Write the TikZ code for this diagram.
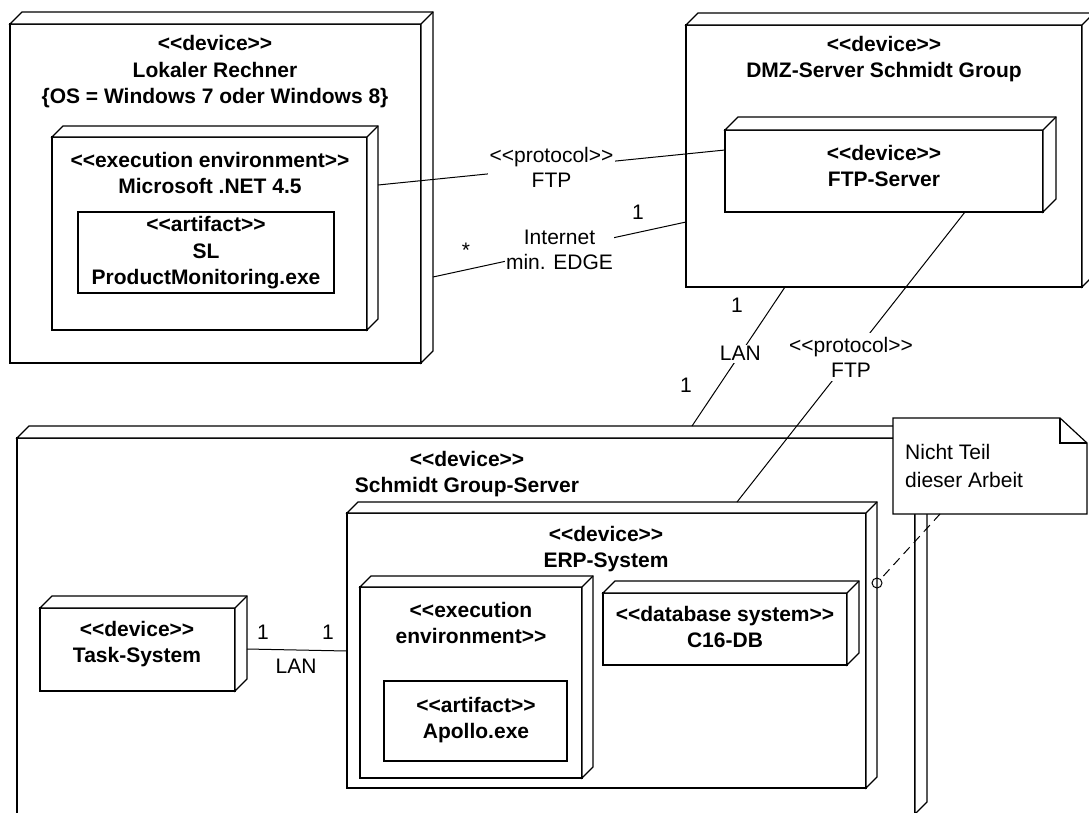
\documentclass[tikz,border=0pt]{standalone}
\usepackage{fontspec}
\setmainfont{Liberation Sans}
\newcommand\stopen{<\kern0pt<}
\newcommand\stclose{>\kern0pt>}
% front face node plus the top and right faces of a UML node box
\newcommand\devicebox[6]{%
  \node[boxface, anchor=north west, minimum width={(#4-#2)*1pt}, minimum height={(#5-#3)*1pt}] (#1) at (#2,#3) {};
  \filldraw[edge, fill=white] (#1.north west) -- ++(#6,-#6) -- ([shift={(#6,-#6)}]#1.north east)
     -- ([shift={(#6,-#6)}]#1.south east) -- (#1.south east) -- (#1.north east) -- cycle;
  \draw[edge] (#1.north east) -- ++(#6,-#6);
}
\newcommand\artifactbox[5]{%
  \node[boxface, anchor=north west, minimum width={(#4-#2)*1pt}, minimum height={(#5-#3)*1pt}] (#1) at (#2,#3) {};
}
\begin{document}
\begin{tikzpicture}[x=1pt, y=-1pt,
  edge/.style={line width=1.2pt, line join=miter},
  boxface/.style={draw, line width=1.2pt, fill=white, inner sep=0pt, outer sep=0pt},
  nodetext/.style={font=\fontsize{21}{26.5}\selectfont\bfseries, align=center, inner sep=0pt},
  linktext/.style={font=\fontsize{21}{25}\selectfont, align=center, inner xsep=1.5pt, inner ysep=4pt, fill=white},
  mult/.style={font=\fontsize{21}{25}\selectfont, inner sep=0pt},
  link/.style={line width=1pt},
]
\useasboundingbox (0,0) rectangle (1089,812);
\clip (0,0) rectangle (1089,812);

% local computer
\devicebox{lr}{10}{24}{421}{363}{12}
\node[nodetext] (lr-t) at (215,72) {\stopen device\stclose\\Lokaler Rechner\\\{OS = Windows 7 oder Windows 8\}};
\devicebox{net}{52}{137}{367}{330}{11}
\node[nodetext] (net-t) at (210,173) {\stopen execution environment\stclose\\Microsoft .NET 4.5};
\artifactbox{sl}{78}{212}{334}{293}
\node[nodetext] (sl-t) at (206,253) {\stopen artifact\stclose\\SL\\ProductMonitoring.exe};

% DMZ server
\devicebox{dmz}{686}{25}{1082}{287}{12}
\node[nodetext] (dmz-t) at (884,59) {\stopen device\stclose\\DMZ-Server Schmidt Group};
\devicebox{ftps}{725}{130}{1043}{212}{13}
\node[nodetext] (ftps-t) at (884,166) {\stopen device\stclose\\FTP-Server};

% company server
\devicebox{sgs}{17}{438}{915}{814}{12}
\node[nodetext] (sgs-t) at (467,474) {\stopen device\stclose\\Schmidt Group-Server};
\devicebox{erp}{347}{513}{866}{788}{11}
\node[nodetext] (erp-t) at (606,549) {\stopen device\stclose\\ERP-System};
\devicebox{ee}{360}{587}{582}{778}{11}
\node[nodetext] (ee-t) at (471,623) {\stopen execution\\environment\stclose};
\artifactbox{ap}{384}{681}{567}{761}
\node[nodetext] (ap-t) at (476,720) {\stopen artifact\stclose\\Apollo.exe};
\devicebox{db}{603}{593}{847}{665}{12}
\node[nodetext] (db-t) at (725,627) {\stopen database system\stclose\\C16-DB};
\devicebox{ts}{40}{608}{235}{691}{12}
\node[nodetext] (ts-t) at (137,644) {\stopen device\stclose\\Task-System};

% communication paths
\draw[link] ([shift={(11,48)}]net.north east) -- ([shift={(0,20)}]ftps.north west)
  node[linktext, pos=0.5] (ftp1-l) {\stopen protocol\stclose\\FTP};
\draw[link] ([shift={(12,253)}]lr.north east) -- ([shift={(0,197)}]dmz.north west)
  node[linktext, pos=0.5] (inet-l) {Internet\\min. EDGE};
\node[mult] (inet-m1) at (466,250) {*};
\node[mult] (inet-m2) at (638,212) {1};
\draw[link] ([shift={(99,0)}]dmz.south west) -- ([shift={(675,-12)}]sgs.north west)
  node[linktext, inner ysep=2pt, pos=0.48] (lan1-l) {LAN};
\node[mult] (lan1-m1) at (737,305) {1};
\node[mult] (lan1-m2) at (686,385) {1};
\draw[link] ([shift={(240,0)}]ftps.south west) -- ([shift={(390,-11)}]erp.north west)
  node[linktext, pos=0.5] (ftp2-l) {\stopen protocol\stclose\\FTP};
\draw[link] ([shift={(12,41)}]ts.north east) -- ([shift={(0,138)}]erp.north west);
\node[mult] (lan2-m1) at (263,632) {1};
\node[mult] (lan2-m2) at (328,632) {1};
\node[mult] (lan2-l) at (296,666) {LAN};

% note with its anchor
\node[minimum width=194pt, minimum height=96pt, inner sep=0pt, outer sep=0pt, anchor=north west] (note) at (893,418) {};
\filldraw[edge, fill=white] (note.north west) -- ([shift={(-27,0)}]note.north east) -- ([shift={(0,25)}]note.north east)
  -- (note.south east) -- (note.south west) -- cycle;
\draw[edge] ([shift={(-27,0)}]note.north east) |- ([shift={(0,25)}]note.north east);
\node[font=\fontsize{21}{28}\selectfont, align=left, inner sep=0pt, anchor=west] (note-t) at (905,466) {Nicht Teil\\dieser Arbeit};
\node[circle, draw, line width=1pt, minimum size=10pt, inner sep=0pt] (lolly) at ([shift={(11,70)}]erp.north east) {};
\draw[link, dash pattern=on 9pt off 6pt] ([shift={(47,0)}]note.south west) -- (lolly);
\end{tikzpicture}
\end{document}
